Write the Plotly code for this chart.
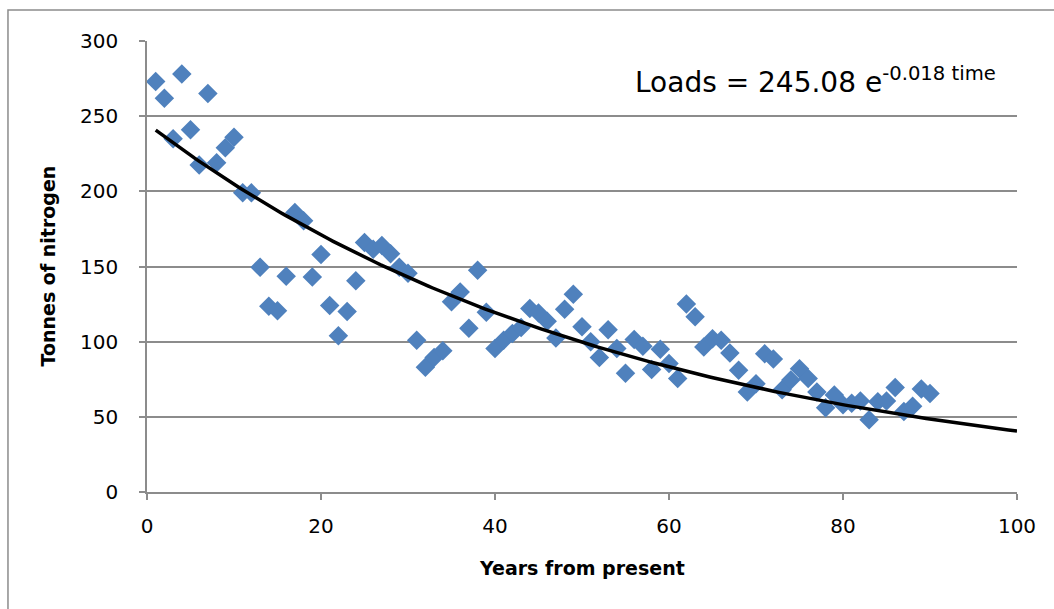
import numpy as np
import plotly.graph_objects as go

years = list(range(1, 91))
loads = [273, 262, 235, 278, 241, 217.5, 265, 219, 229, 236,
         199, 199, 149.5, 123.5, 120.5, 143.5, 186, 180.5, 143, 158,
         124, 104, 120, 140.5, 166, 161.5, 164, 158.5, 149.5, 145.5,
         101, 83, 89.5, 94, 126.5, 133, 109, 147.5, 119.5, 95.5,
         101, 105.5, 109.5, 122, 119, 113.5, 102.5, 121.5, 131.5, 110,
         100, 89.5, 108, 95.5, 79, 101.5, 97, 81.5, 95, 85.5,
         75.5, 125, 116.5, 96.5, 102, 101, 92.5, 81, 66.5, 72,
         92, 88.5, 68, 74.5, 82, 75.5, 66.5, 56, 64.5, 58,
         59, 60.5, 48, 60, 60.5, 69.5, 53.5, 57, 68.5, 65.5]

fit_a = 245.08
fit_b = -0.018
trend_x = np.linspace(1, 100, 200)
trend_y = fit_a * np.exp(fit_b * trend_x)

x_ticks = [0, 20, 40, 60, 80, 100]
y_ticks = [0, 50, 100, 150, 200, 250, 300]

FONT = "DejaVu Sans"
GRID = "#8c8c8c"

fig = go.Figure()
fig.add_trace(go.Scatter(
    x=years, y=loads, mode="markers",
    marker=dict(symbol="diamond", size=15, color="#4F81BD",
                line=dict(width=0)),
    showlegend=False, hoverinfo="x+y"))
fig.add_trace(go.Scatter(
    x=trend_x, y=trend_y, mode="lines",
    line=dict(color="black", width=3.5),
    showlegend=False, hoverinfo="skip"))

fig.update_layout(
    width=1054, height=609,
    margin=dict(l=147, r=37, t=41, b=117),
    paper_bgcolor="white", plot_bgcolor="white",
    font=dict(family=FONT, size=20, color="black"),
    xaxis=dict(range=[0, 100], tickvals=x_ticks, ticks="outside",
               ticklen=6, tickcolor=GRID, tickwidth=1.5,
               showline=True, linecolor=GRID, linewidth=1.5,
               showgrid=False, zeroline=False, ticklabelstandoff=9,
               tickfont=dict(family=FONT, size=20)),
    yaxis=dict(range=[0, 300], tickvals=y_ticks, ticks="outside",
               ticklen=6, tickcolor=GRID, tickwidth=1.5,
               showline=True, linecolor=GRID, linewidth=1.5,
               showgrid=True, gridcolor=GRID, gridwidth=1.5,
               zeroline=False, ticklabelstandoff=17,
               tickfont=dict(family=FONT, size=20)),
    annotations=[
        dict(text="<b>Years from present</b>", xref="paper", yref="paper",
             x=0.5, y=0, yshift=-76, showarrow=False,
             font=dict(family=FONT, size=19), xanchor="center", yanchor="middle"),
        dict(text="<b>Tonnes of nitrogen</b>", xref="paper", yref="paper",
             x=0, y=0.5, xshift=-100, textangle=-90, showarrow=False,
             font=dict(family=FONT, size=19), xanchor="center", yanchor="middle"),
        dict(text="Loads = 245.08 e<sup>-0.018 time</sup>", xref="x", yref="y",
             x=97.8, y=273.5, showarrow=False, xanchor="right", yanchor="middle",
             font=dict(family=FONT, size=28)),
    ],
    shapes=[dict(type="rect", xref="paper", yref="paper",
                 x0=-0.1598, x1=1.06, y0=-0.35, y1=1.0687,
                 line=dict(color=GRID, width=1.5), fillcolor="rgba(0,0,0,0)")],
)

fig.write_html("out.html", config={"displayModeBar": False},
               post_script="document.body.style.margin='0px';document.body.style.padding='0px';")
